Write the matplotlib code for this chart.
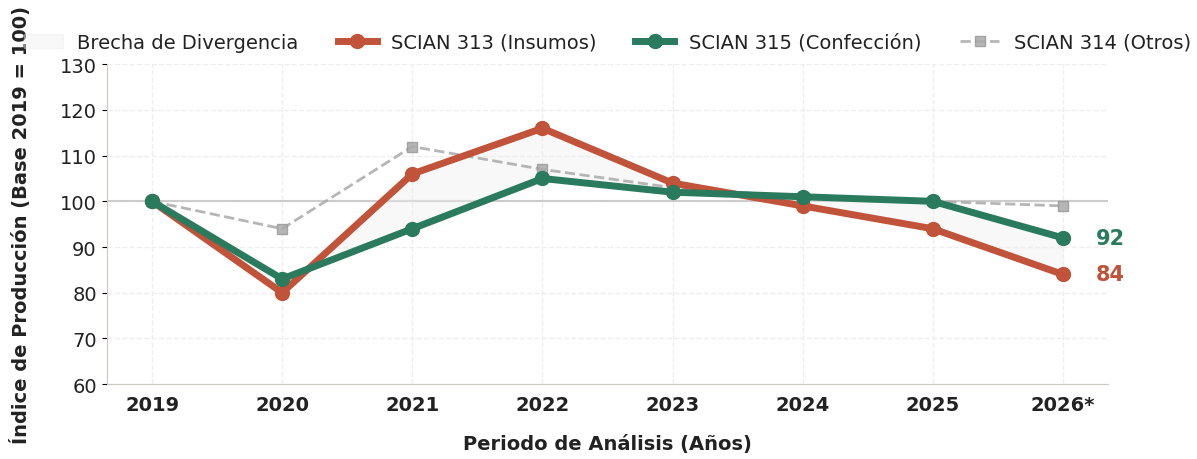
import numpy as np
import matplotlib.pyplot as plt

# Datos
years = ['2019', '2020', '2021', '2022', '2023', '2024', '2025', '2026*']
scian_313 = [100, 80, 106, 116, 104, 99, 94, 84]
scian_315 = [100, 83, 94, 105, 102, 101, 100, 92]
scian_314 = [100, 94, 112, 107, 103, 101, 100, 99]

red = '#C0533A'
green = '#2A7A5E'

fig, ax = plt.subplots(figsize=(11.97, 4.6), dpi=100)
x = np.arange(len(years))

ax.axhline(100, color='#cccccc', linewidth=1.5, zorder=1)

ax.fill_between(x, scian_313, scian_315, color='#eeeeee', alpha=0.4,
                label='Brecha de Divergencia', zorder=1)
ax.plot(x, scian_313, color=red, linewidth=5, marker='o', markersize=10,
        label='SCIAN 313 (Insumos)', zorder=3)
ax.plot(x, scian_315, color=green, linewidth=5, marker='o', markersize=10,
        label='SCIAN 315 (Confección)', zorder=4)
ax.plot(x, scian_314, color='#aaaaaa', linewidth=2, linestyle='--', marker='s',
        markersize=7, alpha=0.85, markeredgecolor='#999999',
        label='SCIAN 314 (Otros)', zorder=2)

# Etiquetas finales
ax.text(x[-1] + 0.25, scian_315[-1], f'{scian_315[-1]}', color=green,
        fontsize=15, fontweight='bold', va='center', ha='left')
ax.text(x[-1] + 0.25, scian_313[-1], f'{scian_313[-1]}', color=red,
        fontsize=15, fontweight='bold', va='center', ha='left')

ax.set_xlim(-0.35, 7.35)
ax.set_ylim(60, 130)
ax.set_xticks(x)
ax.set_xticklabels(years, fontsize=14, fontweight='bold', color='#222222')
ax.tick_params(axis='y', labelsize=14, labelcolor='#222222')
ax.tick_params(axis='x', length=0, pad=8)

ax.set_xlabel('Periodo de Análisis (Años)', fontsize=14, fontweight='bold', labelpad=14,
              color='#222222')
ax.set_ylabel('Índice de Producción (Base 2019 = 100)', fontsize=14, fontweight='bold',
              labelpad=21, color='#222222')

ax.grid(True, linestyle='--', color='#eeeeee', linewidth=1)
ax.set_axisbelow(True)
for s in ['top', 'right']:
    ax.spines[s].set_visible(False)
for s in ['left', 'bottom']:
    ax.spines[s].set_color('#d0c8bc')

leg = ax.legend(loc='lower center', bbox_to_anchor=(0.5, 0.985), ncol=4, frameon=False,
                fontsize=14, handlelength=2.0, handletextpad=0.75, columnspacing=2.0)
for t in leg.get_texts():
    t.set_color('#222222')

plt.subplots_adjust(left=0.089, right=0.926, top=0.858, bottom=0.163)
plt.savefig('out.png')
